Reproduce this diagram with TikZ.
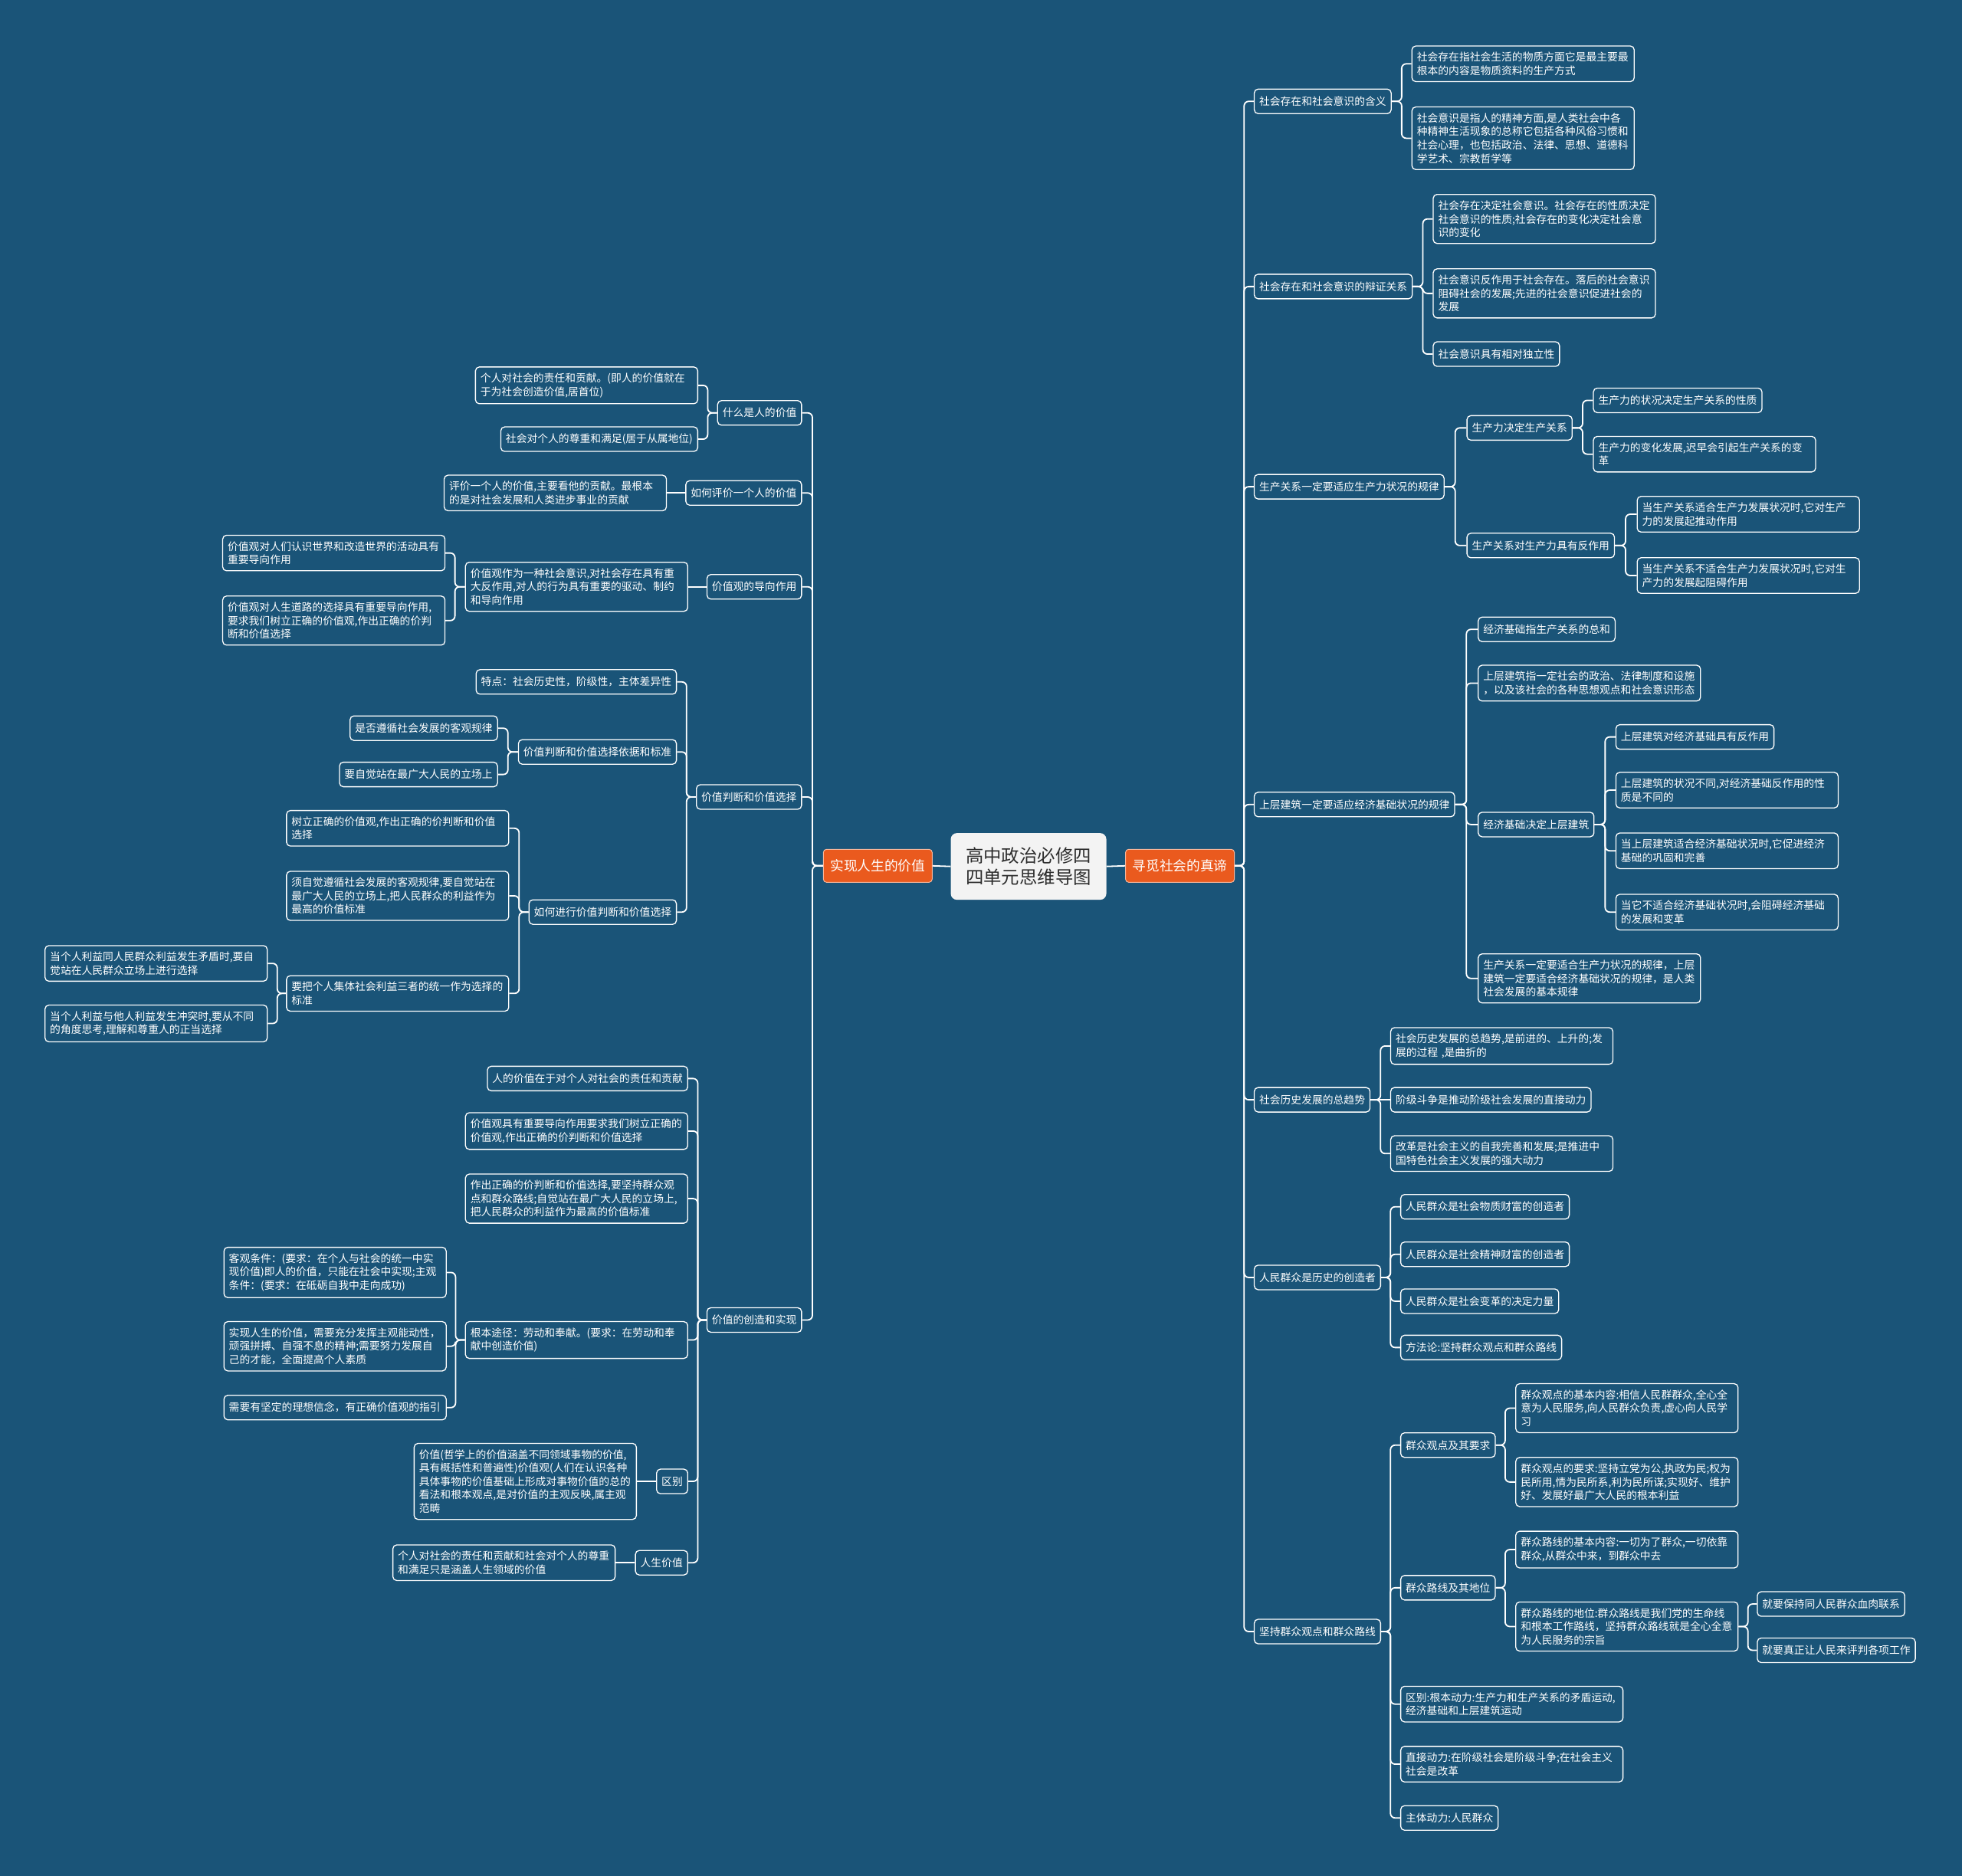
\documentclass[tikz,border=0pt]{standalone}
\usepackage{fontspec}
\setmainfont{Noto Sans CJK SC}
\definecolor{bgb}{RGB}{26,84,120}
\definecolor{org}{RGB}{234,90,30}
\definecolor{ctr}{RGB}{243,243,243}
\definecolor{ink}{RGB}{45,45,45}
\newcommand\RLk[3]{\foreach \ch in {#3}{\draw[conn] (#1.east) -- ++(#2,0) |- (\ch.west);}}
\newcommand\LLk[3]{\foreach \ch in {#3}{\draw[conn] (#1.west) -- ++(-#2,0) |- (\ch.east);}}
\begin{document}
\begin{tikzpicture}[x=1.6327pt,y=-1.6327pt,
  box/.style={draw=white, line width=1.3pt, rounded corners=5pt, fill=bgb, text=white,
    font=\fontsize{13.8pt}{17.6pt}\selectfont, inner xsep=6.5pt, inner ysep=8pt,
    minimum height=32pt, align=left},
  W/.style={text width=277pt},
  R/.style={box, anchor=west},
  L/.style={box, anchor=east},
  main/.style={fill=org, draw=white!55!org, line width=1pt, rounded corners=4pt, text=white,
    font=\fontsize{17.7pt}{21pt}\selectfont, inner xsep=9pt, minimum height=43pt},
  ctrnode/.style={fill=ctr, draw=none, rounded corners=8pt, text=ink,
    font=\fontsize{23.4pt}{28.5pt}\selectfont, align=center, minimum width=203pt, minimum height=87pt},
  conn/.style={draw=white, line width=1.8pt, rounded corners=6pt}]
\useasboundingbox (0,0) rectangle (1568,1499);
\fill[bgb] (-10,-10) rectangle (1578,1509);

% centre and main branches
\node[ctrnode] (C) at (822,692.5) {高中政治必修四\\四单元思维导图};
\node[main] (L0) at (701.5,692) {实现人生的价值};
\node[main] (R0) at (943,692) {寻觅社会的真谛};

% ---------------- left side ----------------
\node[L] (L1) at (641,330) {什么是人的价值};
\node[L,W] (L1a) at (558,308) {个人对社会的责任和贡献。(即人的价值就在\\于为社会创造价值,居首位)};
\node[L] (L1b) at (558,351) {社会对个人的尊重和满足(居于从属地位)};

\node[L] (L2) at (641,394) {如何评价一个人的价值};
\node[L,W] (L2a) at (533,394) {评价一个人的价值,主要看他的贡献。最根本\\的是对社会发展和人类进步事业的贡献};

\node[L] (L3) at (641,469) {价值观的导向作用};
\node[L,W] (L3a) at (550,469) {价值观作为一种社会意识,对社会存在具有重\\大反作用,对人的行为具有重要的驱动、制约\\和导向作用};
\node[L,W] (L3a1) at (356,442) {价值观对人们认识世界和改造世界的活动具有\\重要导向作用};
\node[L,W] (L3a2) at (356,496) {价值观对人生道路的选择具有重要导向作用,\\要求我们树立正确的价值观,作出正确的价判\\断和价值选择};

\node[L] (L4) at (641,637) {价值判断和价值选择};
\node[L] (L4a) at (541,545) {特点：社会历史性，阶级性，主体差异性};
\node[L] (L4b) at (541,601) {价值判断和价值选择依据和标准};
\node[L] (L4b1) at (398,582) {是否遵循社会发展的客观规律};
\node[L] (L4b2) at (398,619) {要自觉站在最广大人民的立场上};
\node[L] (L4c) at (541,729) {如何进行价值判断和价值选择};
\node[L,W] (L4c1) at (407,662) {树立正确的价值观,作出正确的价判断和价值\\选择};
\node[L,W] (L4c2) at (407,716) {须自觉遵循社会发展的客观规律,要自觉站在\\最广大人民的立场上,把人民群众的利益作为\\最高的价值标准};
\node[L,W] (L4c3) at (407,794) {要把个人集体社会利益三者的统一作为选择的\\标准};
\node[L,W] (L4c3a) at (214,770) {当个人利益同人民群众利益发生矛盾时,要自\\觉站在人民群众立场上进行选择};
\node[L,W] (L4c3b) at (214,818) {当个人利益与他人利益发生冲突时,要从不同\\的角度思考,理解和尊重人的正当选择};

\node[L] (L5) at (641,1055) {价值的创造和实现};
\node[L] (L5a) at (550,862) {人的价值在于对个人对社会的责任和贡献};
\node[L,W] (L5b) at (550,904) {价值观具有重要导向作用要求我们树立正确的\\价值观,作出正确的价判断和价值选择};
\node[L,W] (L5c) at (550,958) {作出正确的价判断和价值选择,要坚持群众观\\点和群众路线;自觉站在最广大人民的立场上,\\把人民群众的利益作为最高的价值标准};
\node[L,W] (L5d) at (550,1071) {根本途径：劳动和奉献。(要求：在劳动和奉\\献中创造价值)};
\node[L,W] (L5d1) at (357,1017) {客观条件：(要求：在个人与社会的统一中实\\现价值)即人的价值，只能在社会中实现;主观\\条件：(要求：在砥砺自我中走向成功)};
\node[L,W] (L5d2) at (357,1076) {实现人生的价值，需要充分发挥主观能动性，\\顽强拼搏、自强不息的精神;需要努力发展自\\己的才能，全面提高个人素质};
\node[L,W] (L5d3) at (357,1125) {需要有坚定的理想信念，有正确价值观的指引};
\node[L] (L5e) at (550,1184) {区别};
\node[L,W] (L5e1) at (509,1184) {价值(哲学上的价值涵盖不同领域事物的价值,\\具有概括性和普遍性)价值观(人们在认识各种\\具体事物的价值基础上形成对事物价值的总的\\看法和根本观点,是对价值的主观反映,属主观\\范畴};
\node[L] (L5f) at (550,1249) {人生价值};
\node[L,W] (L5f1) at (492,1249) {个人对社会的责任和贡献和社会对个人的尊重\\和满足只是涵盖人生领域的价值};

% ---------------- right side ----------------
\node[R] (R1) at (1002,81) {社会存在和社会意识的含义};
\node[R,W] (R1a) at (1128,51) {社会存在指社会生活的物质方面它是最主要最\\根本的内容是物质资料的生产方式};
\node[R,W] (R1b) at (1128,110.5) {社会意识是指人的精神方面,是人类社会中各\\种精神生活现象的总称它包括各种风俗习惯和\\社会心理，也包括政治、法律、思想、道德科\\学艺术、宗教哲学等};

\node[R] (R2) at (1002,229) {社会存在和社会意识的辩证关系};
\node[R,W] (R2a) at (1145,175) {社会存在决定社会意识。社会存在的性质决定\\社会意识的性质;社会存在的变化决定社会意\\识的变化};
\node[R,W] (R2b) at (1145,234.5) {社会意识反作用于社会存在。落后的社会意识\\阻碍社会的发展;先进的社会意识促进社会的\\发展};
\node[R] (R2c) at (1145,283) {社会意识具有相对独立性};

\node[R] (R3) at (1002,389) {生产关系一定要适应生产力状况的规律};
\node[R] (R3a) at (1172,342) {生产力决定生产关系};
\node[R] (R3a1) at (1273,320) {生产力的状况决定生产关系的性质};
\node[R,W] (R3a2) at (1273,363) {生产力的变化发展,迟早会引起生产关系的变\\革};
\node[R] (R3b) at (1172,436) {生产关系对生产力具有反作用};
\node[R,W] (R3b1) at (1308,411) {当生产关系适合生产力发展状况时,它对生产\\力的发展起推动作用};
\node[R,W] (R3b2) at (1308,460) {当生产关系不适合生产力发展状况时,它对生\\产力的发展起阻碍作用};

\node[R] (R4) at (1002,643) {上层建筑一定要适应经济基础状况的规律};
\node[R] (R4a) at (1181,503) {经济基础指生产关系的总和};
\node[R,W] (R4b) at (1181,546) {上层建筑指一定社会的政治、法律制度和设施\\，以及该社会的各种思想观点和社会意识形态};
\node[R] (R4c) at (1181,659) {经济基础决定上层建筑};
\node[R] (R4c1) at (1291,589) {上层建筑对经济基础具有反作用};
\node[R,W] (R4c2) at (1291,631.5) {上层建筑的状况不同,对经济基础反作用的性\\质是不同的};
\node[R,W] (R4c3) at (1291,680) {当上层建筑适合经济基础状况时,它促进经济\\基础的巩固和完善};
\node[R,W] (R4c4) at (1291,729) {当它不适合经济基础状况时,会阻碍经济基础\\的发展和变革};
\node[R,W] (R4d) at (1181,782) {生产关系一定要适合生产力状况的规律，上层\\建筑一定要适合经济基础状况的规律，是人类\\社会发展的基本规律};

\node[R] (R5) at (1002,879) {社会历史发展的总趋势};
\node[R,W] (R5a) at (1111,836) {社会历史发展的总趋势,是前进的、上升的;发\\展的过程 ,是曲折的};
\node[R] (R5b) at (1111,879) {阶级斗争是推动阶级社会发展的直接动力};
\node[R,W] (R5c) at (1111,922) {改革是社会主义的自我完善和发展;是推进中\\国特色社会主义发展的强大动力};

\node[R] (R6) at (1002,1021) {人民群众是历史的创造者};
\node[R] (R6a) at (1119,964.5) {人民群众是社会物质财富的创造者};
\node[R] (R6b) at (1119,1002.5) {人民群众是社会精神财富的创造者};
\node[R] (R6c) at (1119,1040) {人民群众是社会变革的决定力量};
\node[R] (R6d) at (1119,1077) {方法论:坚持群众观点和群众路线};

\node[R] (R7) at (1002,1304) {坚持群众观点和群众路线};
\node[R] (R7a) at (1119,1155) {群众观点及其要求};
\node[R,W] (R7a1) at (1211,1125.5) {群众观点的基本内容:相信人民群群众,全心全\\意为人民服务,向人民群众负责,虚心向人民学\\习};
\node[R,W] (R7a2) at (1211,1184.5) {群众观点的要求:坚持立党为公,执政为民;权为\\民所用,情为民所系,利为民所谋;实现好、维护\\好、发展好最广大人民的根本利益};
\node[R] (R7b) at (1119,1269) {群众路线及其地位};
\node[R,W] (R7b1) at (1211,1238.5) {群众路线的基本内容:一切为了群众,一切依靠\\群众,从群众中来，到群众中去};
\node[R,W] (R7b2) at (1211,1300) {群众路线的地位:群众路线是我们党的生命线\\和根本工作路线，坚持群众路线就是全心全意\\为人民服务的宗旨};
\node[R] (R7b2a) at (1404,1282) {就要保持同人民群众血肉联系};
\node[R] (R7b2b) at (1404,1319) {就要真正让人民来评判各项工作};
\node[R,W] (R7c) at (1119,1362) {区别:根本动力:生产力和生产关系的矛盾运动,\\经济基础和上层建筑运动};
\node[R,W] (R7d) at (1119,1410) {直接动力:在阶级社会是阶级斗争;在社会主义\\社会是改革};
\node[R] (R7e) at (1119,1453) {主体动力:人民群众};

% ---------------- connectors ----------------
\draw[conn] (C.west) -- (L0.east);
\draw[conn] (C.east) -- (R0.west);

\LLk{L0}{8.5}{L1,L2,L3,L4,L5}
\LLk{L1}{7.5}{L1a,L1b}
\draw[conn] (L2.west) -- (L2a.east);
\draw[conn] (L3.west) -- (L3a.east);
\LLk{L3a}{8}{L3a1,L3a2}
\LLk{L4}{7.5}{L4a,L4b,L4c}
\LLk{L4b}{8}{L4b1,L4b2}
\LLk{L4c}{7.5}{L4c1,L4c2,L4c3}
\LLk{L4c3}{7}{L4c3a,L4c3b}
\LLk{L5}{7}{L5a,L5b,L5c,L5d,L5e,L5f}
\LLk{L5d}{7.5}{L5d1,L5d2,L5d3}
\draw[conn] (L5e.west) -- (L5e1.east);
\draw[conn] (L5f.west) -- (L5f1.east);

\RLk{R0}{7.5}{R1,R2,R3,R4,R5,R6,R7}
\RLk{R1}{8}{R1a,R1b}
\RLk{R2}{8}{R2a,R2b,R2c}
\RLk{R3}{8.5}{R3a,R3b}
\RLk{R3a}{8}{R3a1,R3a2}
\RLk{R3b}{8.5}{R3b1,R3b2}
\RLk{R4}{9}{R4a,R4b,R4c,R4d}
\RLk{R4c}{8.5}{R4c1,R4c2,R4c3,R4c4}
\RLk{R5}{8}{R5a,R5c}
\draw[conn] (R5.east) -- (R5b.west);
\RLk{R6}{7.5}{R6a,R6b,R6c,R6d}
\RLk{R7}{7.5}{R7a,R7b,R7c,R7d,R7e}
\RLk{R7a}{7.5}{R7a1,R7a2}
\RLk{R7b}{7.5}{R7b1,R7b2}
\RLk{R7b2}{7.5}{R7b2a,R7b2b}
\end{tikzpicture}
\end{document}
